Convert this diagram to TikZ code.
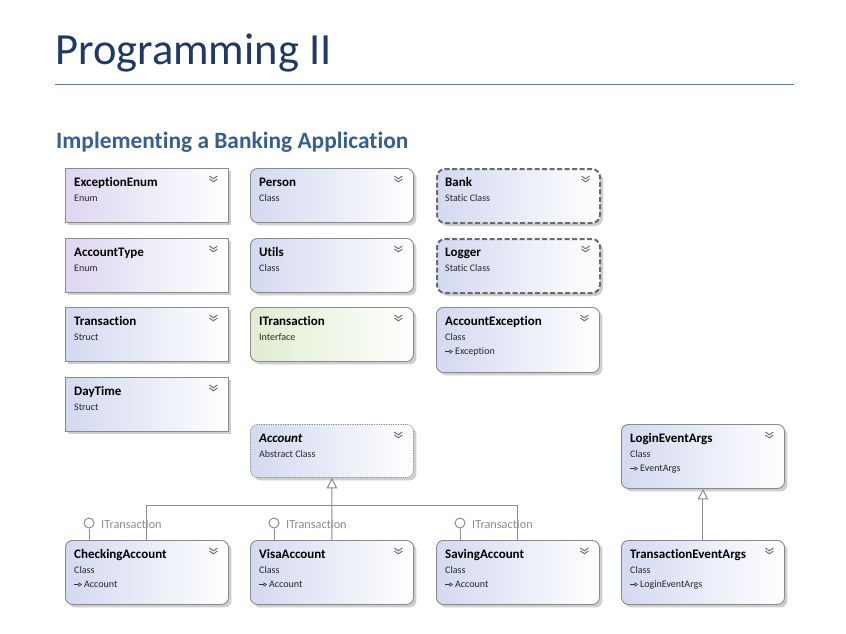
\documentclass[tikz,border=0pt]{standalone}
\usepackage{fontspec}
\setmainfont[Ligatures=NoCommon]{Carlito}
\usetikzlibrary{arrows.meta,shadows,calc}

\definecolor{titleblue}{HTML}{1F3864}
\definecolor{subblue}{HTML}{365F91}
\definecolor{rulecol}{HTML}{4F81BD}
\definecolor{boxgray}{HTML}{8A8A8A}
\definecolor{dashgray}{HTML}{6A6A6A}
\definecolor{clsleft}{HTML}{D3D9F0}
\definecolor{enumleft}{HTML}{DED6F0}
\definecolor{ifaceleft}{HTML}{E0EDCF}
\definecolor{linkgray}{HTML}{8C8C8C}

\tikzset{
  x=1pt, y=-1pt,
  box/.style={anchor=north west, minimum width=163pt, inner sep=0pt,
    draw=boxgray, line width=0.9pt,
    drop shadow={shadow xshift=3pt, shadow yshift=-3pt, fill=black!35, opacity=0.55}},
  clsbox/.style={box, rounded corners=7pt, left color=clsleft, right color=white},
  sqbox/.style={box, left color=clsleft, right color=white},
  enumbox/.style={box, left color=enumleft, right color=white},
  ifacebox/.style={box, rounded corners=7pt, left color=ifaceleft, right color=white},
  staticbox/.style={box, rounded corners=8pt, left color=clsleft, right color=white,
    draw=dashgray, line width=2pt, dash pattern=on 5pt off 2.5pt},
  abstractbox/.style={box, rounded corners=7pt, left color=clsleft, right color=white,
    draw=boxgray, line width=0.8pt, dash pattern=on 1.2pt off 1.2pt},
  nametext/.style={inner sep=0pt, font=\fontsize{13}{15}\selectfont\bfseries, text=black},
  kindtext/.style={inner sep=0pt, font=\fontsize{10}{12}\selectfont, text=black!85},
  chev/.style={draw=black!55, line width=1pt},
  conn/.style={draw=linkgray, line width=1pt},
  gen/.style={conn, -{Triangle[open, length=10.5pt, width=10.5pt, fill=white]}},
  basearrow/.style={draw=black!80, line width=0.6pt, -{Triangle[open, length=3.5pt, width=4.5pt]}},
  lolly/.style={circle, draw=linkgray, line width=1pt, fill=white, minimum size=10pt, inner sep=0pt},
  lollytext/.style={inner sep=0pt, font=\fontsize{12.3}{14}\selectfont, text=linkgray},
}

% one type shape: box, name, kind and the collapse chevron
\newcommand{\umlbox}[7]{%
  \node[#2, minimum height=#5pt] (#1) at (#3,#4) {};
  \node[nametext, anchor=base west] (#1-name) at ([xshift=9pt,yshift=-18.5pt]#1.north west) {#6};
  \node[kindtext, anchor=base west] (#1-kind) at ([xshift=9pt,yshift=-33pt]#1.north west) {#7};
  \draw[chev] ([xshift=-19.5pt,yshift=-8pt]#1.north east) -- ++(4pt,-2.8pt) -- ++(4pt,2.8pt);
  \draw[chev] ([xshift=-19.5pt,yshift=-11pt]#1.north east) -- ++(4pt,-2.8pt) -- ++(4pt,2.8pt);
}
% base type line under the kind
\newcommand{\umlbase}[2]{%
  \draw[basearrow] ([xshift=9pt,yshift=-44.5pt]#1.north west) -- ++(8pt,0pt);
  \node[kindtext, anchor=base west] (#1-base) at ([xshift=19pt,yshift=-47.5pt]#1.north west) {#2};
}
% implemented interface lollipop above a box
\newcommand{\lollipop}[2]{%
  \node[lolly] (#1-lol) at ([xshift=24pt,yshift=17pt]#1.north west) {};
  \draw[conn] (#1-lol.south) -- (#1-lol.south |- #1.north);
  \node[lollytext, anchor=base west] (#1-ltext) at ([xshift=36pt,yshift=12pt]#1.north west) {#2};
}

\begin{document}
\begin{tikzpicture}
  \useasboundingbox (0,0) rectangle (846,634);
  \fill[white] (0,0) rectangle (846,634);

  % heading
  \node[inner sep=0pt, anchor=base west, text=titleblue,
        font=\fontsize{44.5}{48}\selectfont] (title) at (55,65) {Programming II};
  \coordinate (ruleL) at (55,84);
  \coordinate (ruleR) at (794,84);
  \draw[rulecol, line width=1pt] (ruleL) -- (ruleR);
  \node[inner sep=0pt, anchor=base west, text=subblue,
        font=\fontsize{23.4}{26}\selectfont\bfseries] (subtitle) at (56,148) {Implementing a Banking Application};

  % first column
  \umlbox{excenum}{enumbox}{65}{168}{54}{ExceptionEnum}{Enum}
  \umlbox{acctype}{enumbox}{65}{238}{54}{AccountType}{Enum}
  \umlbox{trans}{sqbox}{65}{307}{54}{Transaction}{Struct}
  \umlbox{daytime}{sqbox}{65}{377}{54}{DayTime}{Struct}

  % second column
  \umlbox{person}{clsbox}{250}{168}{54}{Person}{Class}
  \umlbox{utils}{clsbox}{250}{238}{54}{Utils}{Class}
  \umlbox{itrans}{ifacebox}{250}{307}{54}{ITransaction}{Interface}
  \umlbox{account}{abstractbox}{250}{424}{53}{\itshape Account}{Abstract Class}

  % third column
  \umlbox{bank}{staticbox}{436}{168}{54}{Bank}{Static Class}
  \umlbox{logger}{staticbox}{436}{238}{54}{Logger}{Static Class}
  \umlbox{accexc}{clsbox}{436}{307}{65}{AccountException}{Class}
  \umlbase{accexc}{Exception}

  % event args
  \umlbox{login}{clsbox}{621}{424}{64}{LoginEventArgs}{Class}
  \umlbase{login}{EventArgs}

  % bottom row
  \umlbox{checking}{clsbox}{65}{540}{64}{CheckingAccount}{Class}
  \umlbase{checking}{Account}
  \umlbox{visa}{clsbox}{250}{540}{64}{VisaAccount}{Class}
  \umlbase{visa}{Account}
  \umlbox{saving}{clsbox}{436}{540}{64}{SavingAccount}{Class}
  \umlbase{saving}{Account}
  \umlbox{tevargs}{clsbox}{621}{540}{64}{TransactionEventArgs}{Class}
  \umlbase{tevargs}{LoginEventArgs}

  % inheritance
  \coordinate (join) at (331.5,505);
  \draw[conn] (checking.north) |- (join);
  \draw[conn] (saving.north) |- (join);
  \draw[gen] (visa.north) -- (account.south);
  \draw[gen] (tevargs.north) -- (login.south);

  % interface implementations
  \lollipop{checking}{ITransaction}
  \lollipop{visa}{ITransaction}
  \lollipop{saving}{ITransaction}
\end{tikzpicture}
\end{document}
